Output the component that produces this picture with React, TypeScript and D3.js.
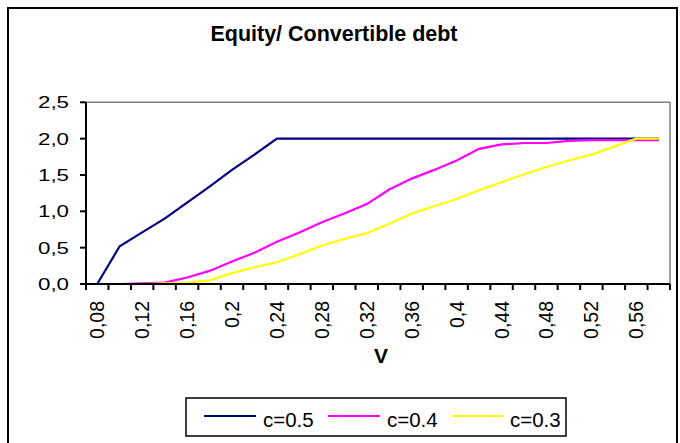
import React from "react";
import * as d3 from "d3";

const categories: number[] = [
  0.08, 0.1, 0.12, 0.14, 0.16, 0.18, 0.2, 0.22, 0.24, 0.26, 0.28, 0.3, 0.32,
  0.34, 0.36, 0.38, 0.4, 0.42, 0.44, 0.46, 0.48, 0.5, 0.52, 0.54, 0.56, 0.58,
];

const seriesC05: number[] = [
  0, 0.52, 0.71, 0.9, 1.12, 1.34, 1.57, 1.78, 2.0, 2.0, 2.0, 2.0, 2.0, 2.0,
  2.0, 2.0, 2.0, 2.0, 2.0, 2.0, 2.0, 2.0, 2.0, 2.0, 2.0, 2.0,
];
const seriesC04: number[] = [
  0, 0, 0.01, 0.02, 0.09, 0.18, 0.31, 0.43, 0.58, 0.71, 0.85, 0.97, 1.1, 1.3,
  1.45, 1.57, 1.7, 1.86, 1.92, 1.94, 1.94, 1.97, 1.98, 1.98, 1.98, 1.98,
];
const seriesC03: number[] = [
  0, 0, 0, 0.01, 0.02, 0.05, 0.15, 0.23, 0.3, 0.41, 0.53, 0.62, 0.7, 0.83,
  0.97, 1.07, 1.17, 1.29, 1.4, 1.51, 1.61, 1.7, 1.78, 1.89, 2.0, 2.0,
];

const seriesNames: string[] = ["c=0.5", "c=0.4", "c=0.3"];
const seriesColors: string[] = ["#000080", "#FF00FF", "#FFFF00"];
const yTicks: number[] = [0, 0.5, 1.0, 1.5, 2.0, 2.5];
const titleText = "Equity/ Convertible debt";
const xTitle = "V";

const FONT = "'Liberation Sans', Arial, sans-serif";

export default function App() {
  const W = 680;
  const H = 443;
  const left = 86;
  const right = 670;
  const top = 102.3;
  const bottom = 284;

  const x = d3
    .scaleBand<string>()
    .domain(categories.map((_, i) => String(i)))
    .range([left, right])
    .padding(0);
  const y = d3.scaleLinear().domain([0, 2.5]).range([bottom, top]);

  const cx = (i: number) => (x(String(i)) as number) + x.bandwidth() / 2;
  const line = d3
    .line<number>()
    .x((_, i) => cx(i))
    .y((d) => y(d));

  const allSeries = [seriesC05, seriesC04, seriesC03];
  const fmt = (v: number) => String(v).replace(".", ",");
  const fmtY = (v: number) => v.toFixed(1).replace(".", ",");

  const boundaries = d3.range(categories.length + 1).map(
    (i) => left + i * x.bandwidth()
  );

  const legendX = 186;
  const legendY = 398;
  const legendW = 380;
  const legendH = 38;
  const itemStarts = [204, 328, 451];

  return (
    <div style={{ position: "fixed", left: 0, top: 0 }}>
      <svg width={W} height={H} style={{ display: "block" }}>
        <rect x={0} y={0} width={W} height={H} fill="#fff" />
        <rect
          x={8}
          y={8}
          width={669}
          height={445}
          fill="#fff"
          stroke="#000"
          strokeWidth={2}
        />
        <text
          x={334}
          y={41}
          textAnchor="middle"
          fontFamily={FONT}
          fontWeight="bold"
          fontSize={22}
          textLength={247}
          lengthAdjust="spacingAndGlyphs"
        >
          {titleText}
        </text>

        <line x1={left} x2={right} y1={top} y2={top} stroke="#808080" strokeWidth={1.5} />
        <line x1={right} x2={right} y1={top} y2={bottom} stroke="#808080" strokeWidth={1.5} />

        {allSeries.map((s, k) => (
          <path
            key={k}
            d={line(s) || ""}
            fill="none"
            stroke={seriesColors[k]}
            strokeWidth={2.2}
          />
        ))}

        <line x1={left} x2={left} y1={top} y2={bottom} stroke="#000" strokeWidth={2} />
        {yTicks.map((t) => (
          <g key={t}>
            <line x1={left - 6} x2={left} y1={y(t)} y2={y(t)} stroke="#000" strokeWidth={2} />
            <text
              x={69}
              y={y(t) + 6}
              textAnchor="end"
              fontFamily={FONT}
              fontSize={16}
              textLength={31}
              lengthAdjust="spacingAndGlyphs"
            >
              {fmtY(t)}
            </text>
          </g>
        ))}

        <line x1={left} x2={right} y1={bottom} y2={bottom} stroke="#000" strokeWidth={2} />
        {boundaries.map((bx, i) => (
          <line key={i} x1={bx} x2={bx} y1={bottom} y2={bottom + 6} stroke="#000" strokeWidth={2} />
        ))}
        {categories.map((c, i) =>
          i % 2 === 0 ? (
            <text
              key={i}
              transform={`translate(${cx(i) + 7},301) rotate(-90)`}
              textAnchor="end"
              fontFamily={FONT}
              fontSize={19.5}
            >
              {fmt(c)}
            </text>
          ) : null
        )}
        <text
          x={381}
          y={363}
          textAnchor="middle"
          fontFamily={FONT}
          fontWeight="bold"
          fontSize={21}
        >
          {xTitle}
        </text>

        <rect
          x={legendX}
          y={legendY}
          width={legendW}
          height={legendH}
          fill="#fff"
          stroke="#000"
          strokeWidth={1.5}
        />
        {seriesNames.map((n, k) => (
          <g key={n}>
            <line
              x1={itemStarts[k]}
              x2={itemStarts[k] + 52}
              y1={416}
              y2={416}
              stroke={seriesColors[k]}
              strokeWidth={2}
            />
            <text
              x={itemStarts[k] + 59}
              y={427}
              fontFamily={FONT}
              fontSize={20.5}
            >
              {n}
            </text>
          </g>
        ))}
      </svg>
    </div>
  );
}
